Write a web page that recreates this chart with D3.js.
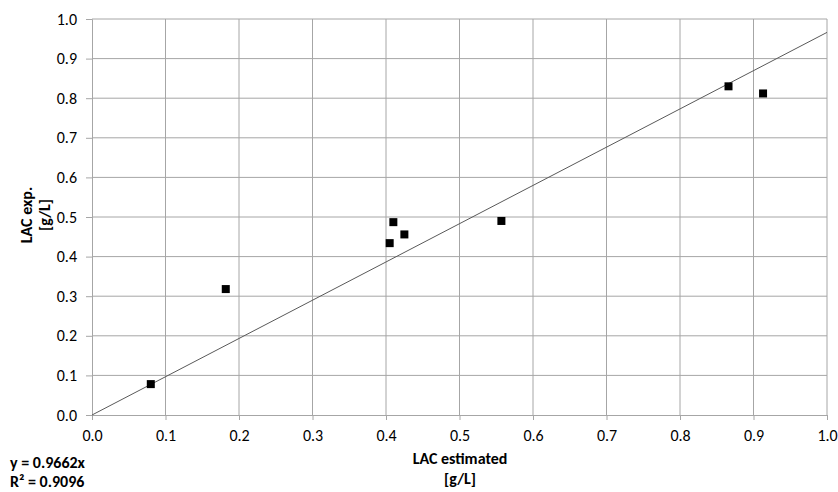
<!DOCTYPE html>
<html>
<head>
<script src="https://cdn.jsdelivr.net/npm/d3@7"></script>
<style>
  body { margin: 0; background: #fff; }
  text { font-family: Calibri, Carlito, "Liberation Sans", Arial, sans-serif; fill: #000; }
  .tick text { font-size: 16px; }
  .title { font-size: 16px; font-weight: bold; }
</style>
</head>
<body>
<div id="chart"></div>
<script>
// data
var xEst = [0.080, 0.182, 0.410, 0.425, 0.405, 0.557, 0.866, 0.913];
var yExp = [0.078, 0.318, 0.487, 0.456, 0.434, 0.490, 0.830, 0.812];
var slope = 0.9662;
var xTicks = [0, 0.1, 0.2, 0.3, 0.4, 0.5, 0.6, 0.7, 0.8, 0.9, 1.0];
var yTicks = [0, 0.1, 0.2, 0.3, 0.4, 0.5, 0.6, 0.7, 0.8, 0.9, 1.0];
var eqLines = ['y = 0.9662x', 'R\u00b2 = 0.9096'];

var width = 838, height = 492;
var x = d3.scaleLinear().domain([0, 1]).range([92, 827]);
var y = d3.scaleLinear().domain([0, 1]).range([415, 19]);

var svg = d3.select('#chart').append('svg')
  .attr('width', width).attr('height', height);

// grid
svg.append('g').selectAll('line.v').data(xTicks.slice(1)).enter().append('line')
  .attr('x1', function(d){ return x(d); }).attr('x2', function(d){ return x(d); })
  .attr('y1', y(0)).attr('y2', y(1))
  .attr('stroke', '#a6a6a6').attr('stroke-width', 1);
svg.append('g').selectAll('line.h').data(yTicks.slice(1)).enter().append('line')
  .attr('y1', function(d){ return y(d); }).attr('y2', function(d){ return y(d); })
  .attr('x1', x(0)).attr('x2', x(1))
  .attr('stroke', '#a6a6a6').attr('stroke-width', 1);

// axes
var xAxis = svg.append('g').attr('transform', 'translate(0,' + y(0) + ')')
  .call(d3.axisBottom(x).tickValues(xTicks).tickFormat(d3.format('.1f')).tickSize(5).tickPadding(10));
var yAxis = svg.append('g').attr('transform', 'translate(' + x(0) + ',0)')
  .call(d3.axisLeft(y).tickValues(yTicks).tickFormat(d3.format('.1f')).tickSize(6).tickPadding(9));
[xAxis, yAxis].forEach(function(a){
  a.select('.domain').attr('stroke', '#a6a6a6');
  a.selectAll('.tick line').attr('stroke', '#a6a6a6');
  a.selectAll('.tick text').attr('fill', '#000');
});

// trend line
svg.append('line')
  .attr('x1', x(0)).attr('y1', y(0))
  .attr('x2', x(1)).attr('y2', y(slope))
  .attr('stroke', '#595959').attr('stroke-width', 1);

// points
svg.append('g').selectAll('rect').data(xEst).enter().append('rect')
  .attr('x', function(d){ return x(d) - 4; })
  .attr('y', function(d, i){ return y(yExp[i]) - 4; })
  .attr('width', 8).attr('height', 8)
  .attr('fill', '#000');

// axis titles
var yt = svg.append('text').attr('class', 'title')
  .attr('transform', 'translate(0,215) rotate(-90)')
  .attr('text-anchor', 'middle');
yt.append('tspan').attr('x', 0).attr('y', 32).text('LAC exp.');
yt.append('tspan').attr('x', 0).attr('y', 50).text('[g/L]');

var xt = svg.append('text').attr('class', 'title').attr('text-anchor', 'middle');
xt.append('tspan').attr('x', 460).attr('y', 464).text('LAC estimated');
xt.append('tspan').attr('x', 460).attr('y', 484).text('[g/L]');

// equation
svg.append('g').selectAll('text').data(eqLines).enter().append('text')
  .attr('class', 'title')
  .attr('x', 10).attr('y', function(d, i){ return 468 + i * 19; })
  .text(function(d){ return d; });
</script>
</body>
</html>
